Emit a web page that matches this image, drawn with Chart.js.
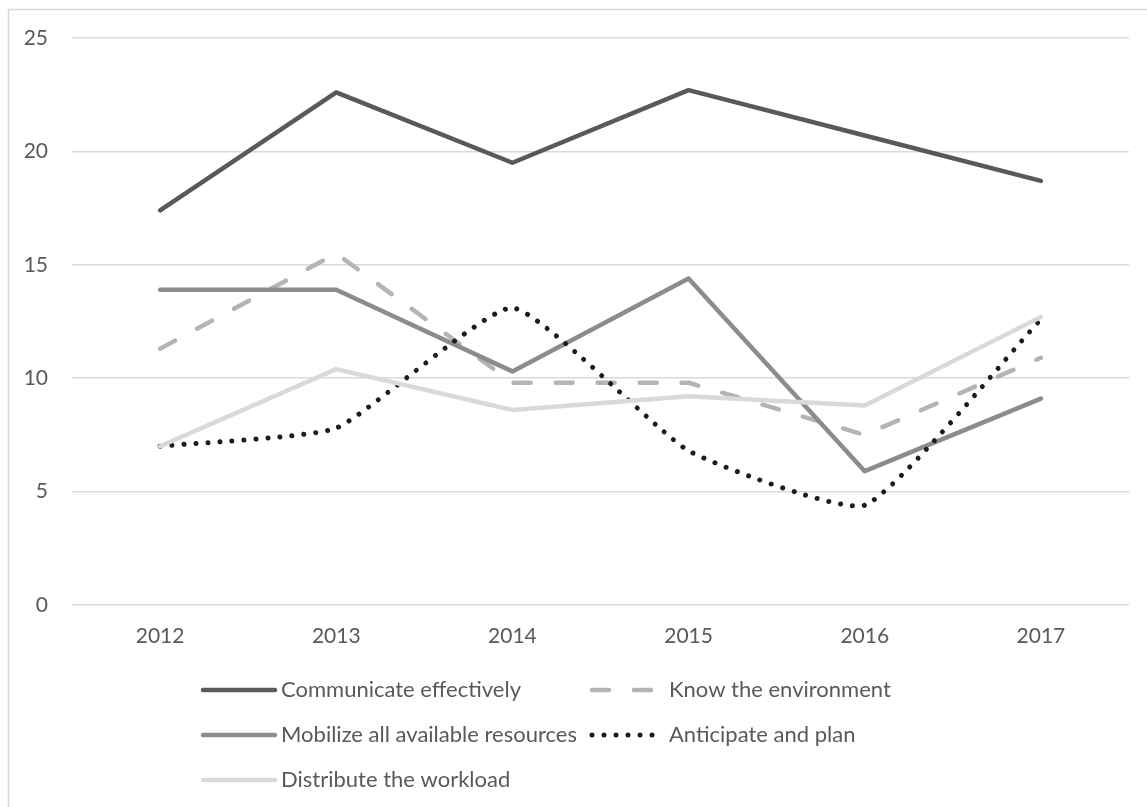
<!DOCTYPE html>
<html>
<head>
<meta charset="utf-8">
<script src="https://cdn.jsdelivr.net/npm/chart.js@4/dist/chart.umd.min.js"></script>
<style>
  html, body { margin: 0; padding: 0; background: #fff; }
  #wrap { width: 1147px; height: 807px; }
</style>
</head>
<body>
<div id="wrap"><canvas id="myChart" width="1147" height="807"></canvas></div>
<script>
const years = ['2012', '2013', '2014', '2015', '2016', '2017'];
const communicate = [17.4, 22.6, 19.5, 22.7, 20.7, 18.7];
const knowEnv = [11.3, 15.5, 9.8, 9.8, 7.5, 10.9];
const mobilize = [13.9, 13.9, 10.3, 14.4, 5.9, 9.1];
const anticipate = [7.0, 7.8, 13.1, 6.8, 4.4, 12.6];
const distribute = [7.0, 10.4, 8.6, 9.2, 8.8, 12.7];
const yTicks = [0, 5, 10, 15, 20, 25];

const FONT = 'Lato';
const TEXT = '#595959';

// legend slots: [sampleStart, sampleEnd, textX, y]
const legendSlots = [
    [203, 275, 281, 690],
    [592, 657, 669, 690],
    [203, 275, 281, 735],
    [592, 657, 669, 735],
    [203, 275, 281, 780]
];

const frameAndLegend = {
    id: 'frameAndLegend',
    afterDraw(chart) {
        const ctx = chart.ctx;
        ctx.save();
        ctx.strokeStyle = '#d9d9d9';
        ctx.lineWidth = 1.5;
        ctx.beginPath();
        ctx.moveTo(8.5, 807);
        ctx.lineTo(8.5, 9.5);
        ctx.lineTo(1147, 9.5);
        ctx.stroke();

        chart.data.datasets.forEach((ds, i) => {
            const [x0, x1, tx, y] = legendSlots[i];
            ctx.strokeStyle = ds.borderColor;
            ctx.lineWidth = ds.borderWidth;
            ctx.lineCap = 'round';
            ctx.setLineDash(ds.borderDash || []);
            ctx.beginPath();
            ctx.moveTo(x0, y);
            ctx.lineTo(x1, y);
            ctx.stroke();
            ctx.setLineDash([]);
            ctx.fillStyle = TEXT;
            ctx.font = '22px ' + FONT;
            ctx.textBaseline = 'middle';
            ctx.textAlign = 'left';
            ctx.fillText(ds.label, tx, y);
        });
        ctx.restore();
    }
};

function createGraph() {
    const ctx = document.getElementById('myChart').getContext('2d');
    const common = { pointRadius: 0, borderWidth: 4.5, borderCapStyle: 'round', borderJoinStyle: 'round', fill: false, tension: 0 };
    return new Chart(ctx, {
        type: 'line',
        data: {
            labels: years,
            datasets: [
                Object.assign({}, common, { label: 'Communicate effectively', data: communicate, borderColor: '#595959', order: 5 }),
                Object.assign({}, common, { label: 'Know the environment', data: knowEnv, borderColor: '#b4b4b4', borderDash: [17, 25], order: 4 }),
                Object.assign({}, common, { label: 'Mobilize all available resources', data: mobilize, borderColor: '#8c8c8c', order: 3 }),
                Object.assign({}, common, { label: 'Anticipate and plan', data: anticipate, borderColor: '#1c1c1c', borderWidth: 5, borderDash: [0.01, 12], tension: 0.15, order: 2 }),
                Object.assign({}, common, { label: 'Distribute the workload', data: distribute, borderColor: '#d9d9d9', order: 1 })
            ]
        },
        options: {
            responsive: false,
            animation: false,
            devicePixelRatio: 1,
            layout: { padding: { top: 38, right: 18, bottom: 0, left: 0 } },
            plugins: { legend: { display: false }, tooltip: { enabled: false } },
            scales: {
                x: {
                    offset: true,
                    grid: { display: false, drawTicks: false },
                    border: { display: false },
                    ticks: { color: TEXT, font: { family: FONT, size: 21 }, padding: 19, maxRotation: 0 },
                    afterFit: s => { s.height = 202; }
                },
                y: {
                    min: 0,
                    max: 25,
                    afterBuildTicks: s => { s.ticks = yTicks.map(v => ({ value: v })); },
                    grid: { color: '#d9d9d9', lineWidth: 1.5, drawTicks: false },
                    border: { display: false },
                    ticks: { color: TEXT, font: { family: FONT, size: 21 }, padding: 24 },
                    afterFit: s => { s.width = 72; }
                }
            }
        },
        plugins: [frameAndLegend]
    });
}

createGraph();
</script>
</body>
</html>
